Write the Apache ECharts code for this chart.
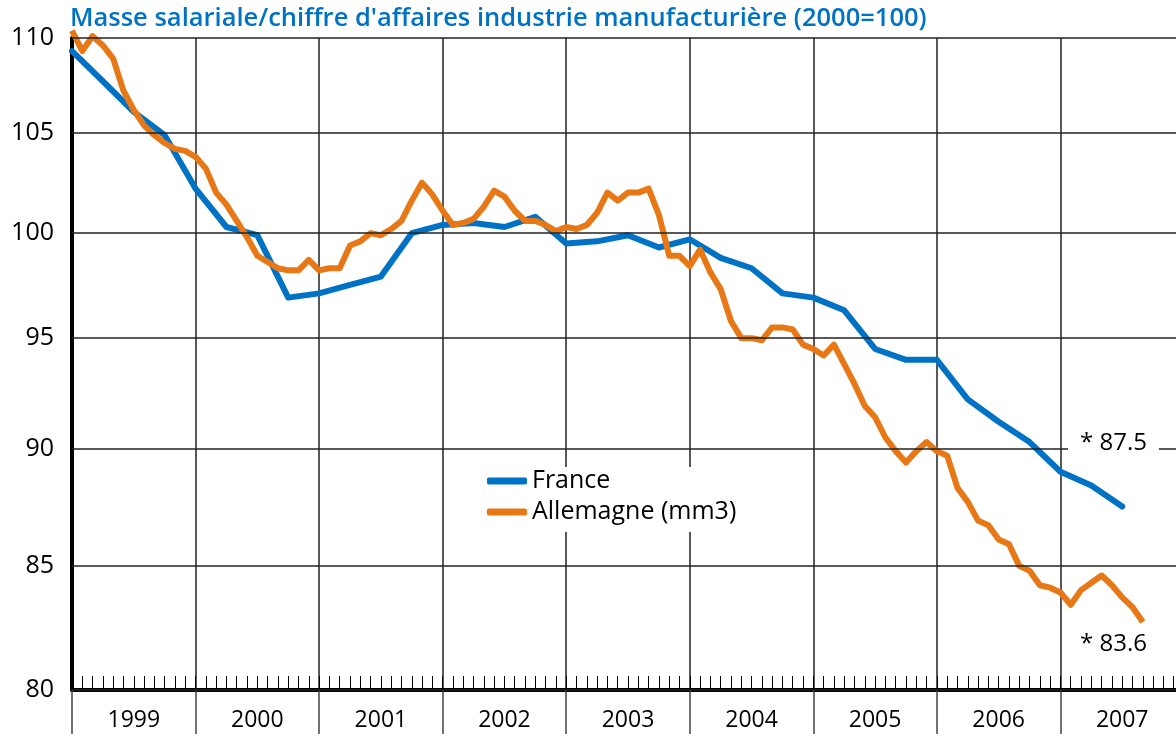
<!DOCTYPE html>
<html>
<head>
<meta charset="UTF-8">
<title>Masse salariale / chiffre d'affaires</title>
<script src="https://cdn.jsdelivr.net/npm/echarts@6/dist/echarts.min.js"></script>
<style>
  html, body { margin: 0; padding: 0; background: #fff; }
  #chart { width: 1176px; height: 734px; }
</style>
</head>
<body>
<div id="chart"></div>
<script>
// year bands on the x axis
var years = ['1999', '2000', '2001', '2002', '2003', '2004', '2005', '2006', '2007'];
var startYear = 1999;
// y gridlines / labels (log scale)
var yTicks = [80, 85, 90, 95, 100, 105, 110];

// France, quarterly (from 1999 Q1)
var france = [
  109.3, 107.7, 106.1, 104.9, 102.2, 100.3, 99.9, 96.9, 97.1, 97.5, 97.9, 100.0,
  100.4, 100.5, 100.3, 100.8, 99.5, 99.6, 99.9, 99.3, 99.7, 98.8, 98.3, 97.1,
  96.9, 96.3, 94.5, 94.0, 94.0, 92.2, 91.2, 90.3, 89.0, 88.4, 87.5
];

// Allemagne, monthly 3-month moving average (from 1999-01)
var allemagne = [
  110.4, 109.3, 110.1, 109.6, 108.9, 107.2, 106.2, 105.4, 104.9, 104.5, 104.2, 104.1,
  103.8, 103.2, 102.0, 101.4, 100.6, 99.8, 98.9, 98.6, 98.3, 98.2, 98.2, 98.7,
  98.2, 98.3, 98.3, 99.4, 99.6, 100.0, 99.9, 100.2, 100.6, 101.6, 102.5, 101.9,
  101.1, 100.4, 100.5, 100.7, 101.3, 102.1, 101.8, 101.1, 100.6, 100.6, 100.4, 100.1,
  100.3, 100.2, 100.4, 101.0, 102.0, 101.6, 102.0, 102.0, 102.2, 100.9, 98.9, 98.9,
  98.4, 99.2, 98.1, 97.3, 95.8, 95.0, 95.0, 94.9, 95.5, 95.5, 95.4, 94.7,
  94.5, 94.2, 94.7, 93.8, 92.9, 91.9, 91.4, 90.5, 89.9, 89.4, 89.9, 90.3,
  89.9, 89.7, 88.3, 87.7, 86.9, 86.7, 86.1, 85.9, 85.0, 84.8, 84.2, 84.1,
  83.9, 83.4, 84.0, 84.3, 84.6, 84.2, 83.7, 83.3, 82.7
];

var lastFrance = '* 87.5';
var lastAllemagne = '* 83.6';

var blue = '#0072C6';
var orange = '#E87716';
var font = '"Open Sans", Lato, sans-serif';

function toPairs(values, perYear) {
  var out = [];
  for (var i = 0; i < values.length; i++) {
    out.push([startYear + i / perYear, values[i]]);
  }
  return out;
}

var gridLines = [];
for (var i = 0; i < yTicks.length; i++) {
  gridLines.push({ yAxis: yTicks[i] });
}

var myChart = echarts.init(document.getElementById('chart'), null, { renderer: 'canvas' });
myChart.setOption({
  animation: false,
  backgroundColor: '#fff',
  title: {
    text: "Masse salariale/chiffre d'affaires industrie manufacturière (2000=100)",
    left: 70,
    top: 6,
    padding: 0,
    textStyle: { color: blue, fontSize: 25.5, fontWeight: 600, fontFamily: font }
  },
  grid: { left: 72, right: -8, top: 38, bottom: 44, containLabel: false, outerBoundsMode: 'none' },
  legend: {
    data: ['France', 'Allemagne (mm3)'],
    orient: 'vertical',
    left: 479,
    top: 467,
    padding: [1, 18, 7, 8],
    itemGap: 5,
    itemWidth: 40,
    itemHeight: 7,
    icon: 'roundRect',
    backgroundColor: '#fff',
    textStyle: { color: '#000', fontSize: 25, lineHeight: 26, fontWeight: 500, fontFamily: font }
  },
  xAxis: [
    {
      type: 'category',
      data: years,
      position: 'bottom',
      boundaryGap: true,
      axisLine: { show: true, lineStyle: { color: '#000', width: 4 } },
      axisTick: { show: true, interval: 0, length: 44, lineStyle: { color: '#444', width: 1.5 } },
      axisLabel: { show: true, interval: 0, margin: 19, color: '#000', fontSize: 23, fontFamily: font },
      splitLine: { show: true, interval: 0, lineStyle: { color: '#222', width: 1.5 } }
    },
    {
      type: 'value',
      position: 'bottom',
      min: 1999,
      max: 2008,
      interval: 1,
      axisLine: { show: false },
      axisTick: { show: true, inside: true, length: 14, lineStyle: { color: '#000', width: 1 } },
      minorTick: { show: true, splitNumber: 12, length: 14, lineStyle: { color: '#000', width: 1 } },
      axisLabel: { show: false },
      splitLine: { show: false }
    }
  ],
  yAxis: {
    type: 'log',
    logBase: 10,
    min: 80,
    max: 110,
    axisLine: { show: true, lineStyle: { color: '#000', width: 4 } },
    axisTick: { show: false },
    axisLabel: { show: false },
    splitLine: { show: false }
  },
  graphic: [
    {
      type: 'text', left: 1068, top: 431, z: 10,
      style: { text: lastFrance, fill: '#000', fontSize: 24, fontFamily: font,
               backgroundColor: '#fff', padding: [0, 12, 0, 12] }
    },
    {
      type: 'text', left: 1080, top: 632, z: 10,
      style: { text: lastAllemagne, fill: '#000', fontSize: 24, fontFamily: font }
    }
  ],
  series: [
    {
      name: 'grid',
      type: 'line',
      xAxisIndex: 1,
      data: [],
      z: 1,
      clip: false,
      silent: true,
      markLine: {
        silent: true,
        symbol: ['none', 'none'],
        lineStyle: { color: '#222', width: 1.5, type: 'solid' },
        label: { show: true, position: 'start', distance: 18, formatter: '{c}',
                 color: '#000', fontSize: 25, fontFamily: font },
        emphasis: { disabled: true },
        data: gridLines
      }
    },
    {
      name: 'France',
      type: 'line',
      xAxisIndex: 1,
      data: toPairs(france, 4),
      symbol: 'none',
      clip: false,
      z: 3,
      color: blue,
      lineStyle: { color: blue, width: 6, cap: 'round', join: 'round' }
    },
    {
      name: 'Allemagne (mm3)',
      type: 'line',
      xAxisIndex: 1,
      data: toPairs(allemagne, 12),
      symbol: 'none',
      clip: false,
      z: 3,
      color: orange,
      lineStyle: { color: orange, width: 6, cap: 'butt', join: 'round' }
    }
  ]
});
</script>
</body>
</html>
